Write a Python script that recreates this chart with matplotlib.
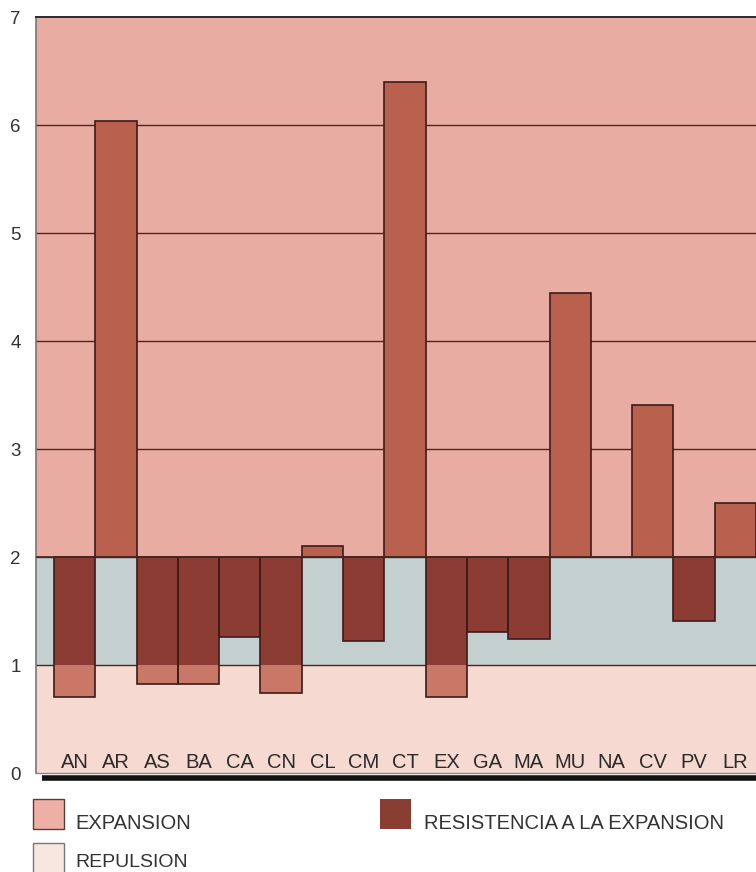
import matplotlib
matplotlib.use("Agg")
import matplotlib.pyplot as plt
from matplotlib.patches import Rectangle
from matplotlib.lines import Line2D

plt.rcParams['font.family'] = ['Liberation Sans', 'DejaVu Sans']

# ---- data ----
regions = ["AN", "AR", "AS", "BA", "CA", "CN", "CL", "CM", "CT",
           "EX", "GA", "MA", "MU", "NA", "CV", "PV", "LR"]
values = [0.70, 6.04, 0.82, 0.82, 1.26, 0.74, 2.10, 1.22, 6.40,
          0.70, 1.31, 1.24, 4.44, 2.00, 3.41, 1.41, 2.50]
baseline = 2.0
y_ticks = [0, 1, 2, 3, 4, 5, 6, 7]
bands = [(0, 1, "repulsion"), (1, 2, "neutral"), (2, 7, "expansion")]
legend_labels = ["EXPANSION", "RESISTENCIA A LA EXPANSION", "REPULSION"]

# ---- styles ----
band_colors = {"repulsion": "#f6d9d1", "neutral": "#c4cfd0", "expansion": "#e9aca2"}
bar_colors = {"repulsion": "#c97766", "neutral": "#8c3c33", "expansion": "#b9604f"}
edge = "#3b1c19"
grid_c = "#4a2622"

W, H = 756, 872
fig = plt.figure(figsize=(W / 100, H / 100), dpi=100)
fig.patch.set_facecolor("white")

ax_l, ax_r, ax_b, ax_t = 36, 756, 773, 17
ax = fig.add_axes([ax_l / W, 1 - ax_b / H, (ax_r - ax_l) / W, (ax_b - ax_t) / H])
ax.set_xlim(-0.936, 16.5)
ax.set_ylim(0, 7)

# background bands
for lo, hi, name in bands:
    ax.axhspan(lo, hi, color=band_colors[name], zorder=0, lw=0)

# grid lines
for t in y_ticks[1:-1]:
    ax.axhline(t, color=grid_c, lw=1.0, zorder=1)

# bars split by band
x = list(range(len(regions)))
for lo, hi, name in bands:
    bots, hts, xs = [], [], []
    for i, v in zip(x, values):
        a, b = min(v, baseline), max(v, baseline)
        s, e = max(a, lo), min(b, hi)
        if e > s:
            xs.append(i)
            bots.append(s)
            hts.append(e - s)
    ax.bar(xs, hts, bottom=bots, width=1.0, color=bar_colors[name], lw=0, zorder=2)

# outlines
ax.bar(x, [v - baseline for v in values], bottom=baseline, width=1.0,
       fill=False, edgecolor=edge, lw=1.2, zorder=3)
ax.axhline(baseline, color=grid_c, lw=1.2, zorder=3)

# category labels inside plot
for i, r in zip(x, regions):
    ax.text(i, 0.1, r, ha="center", va="center", fontsize=14.5, color="#2a2a2a", zorder=4)

ax.set_xticks([])
ax.set_yticks(y_ticks)
ax.set_yticklabels([str(t) for t in y_ticks], fontsize=13.5, color="#333333")
ax.tick_params(axis="y", length=0, pad=11)
ax.spines["right"].set_visible(False)
ax.spines["top"].set_color("#2a2a2a")
ax.spines["top"].set_linewidth(1.4)
ax.spines["left"].set_color("#777777")
ax.spines["left"].set_linewidth(1.2)
ax.spines["bottom"].set_color("#888888")
ax.spines["bottom"].set_linewidth(1.0)

# shadow line under axis
fig.add_artist(Line2D([42 / W, 1.0], [1 - 778 / H, 1 - 778 / H], color="#111111",
                      lw=4.0, solid_capstyle="butt"))

# legend
def fx(px):
    return px / W

def fy(py):
    return 1 - py / H

fig.add_artist(Rectangle((fx(33), fy(829)), 31 / W, 30 / H, facecolor="#eeb0a5",
                         edgecolor="#5a3a36", lw=1.0))
fig.text(fx(75), fy(823), legend_labels[0], fontsize=14.5, color="#333333", va="center")
fig.add_artist(Rectangle((fx(380), fy(829)), 31 / W, 30 / H, facecolor="#8a3e33",
                         edgecolor="none", lw=0))
fig.text(fx(424), fy(823), legend_labels[1], fontsize=14.5, color="#333333", va="center")
fig.add_artist(Rectangle((fx(33), fy(874)), 31 / W, 31 / H, facecolor="#f8e6e0",
                         edgecolor="#777777", lw=1.0))
fig.text(fx(75), fy(862), legend_labels[2], fontsize=14, color="#333333", va="center")

fig.savefig("out.png", dpi=100)
